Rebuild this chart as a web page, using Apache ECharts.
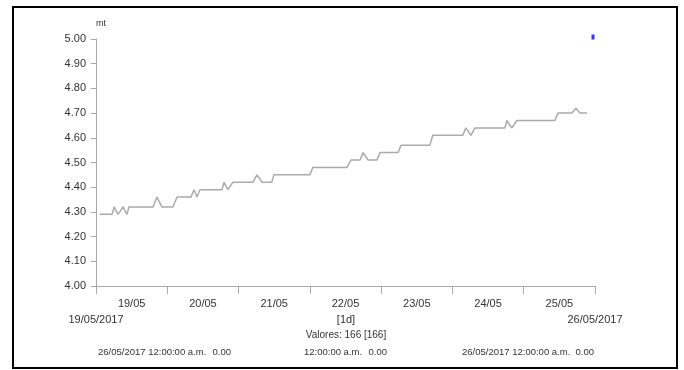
<!DOCTYPE html>
<html>
<head>
<meta charset="utf-8">
<script src="https://cdn.jsdelivr.net/npm/echarts@6/dist/echarts.min.js"></script>
<style>
  html, body { margin: 0; padding: 0; background: #fff; }
  #chart { width: 684px; height: 370px; }
</style>
</head>
<body>
<div id="chart"></div>
<script>
  // hours since 19/05/2017 00:00 and the reading at that moment
  const hours = [1.35, 5.4, 6.1, 7.4, 9.1, 10.4, 11.1, 19.2, 20.5, 22.2, 25.9, 27.3, 32.0, 33.0, 34.0, 35.0,
    42.4, 43.1, 44.4, 46.1, 52.8, 54.2, 55.9, 59.2, 59.9, 72.0, 73.0, 84.5, 85.8, 88.9, 89.9, 91.6,
    94.6, 95.6, 101.7, 102.7, 112.4, 113.4, 123.5, 124.5, 126.2, 127.6, 137.7, 138.3, 140.0, 141.7,
    154.5, 155.5, 160.2, 161.6, 162.9, 165.3];
  const values = [4.29, 4.29, 4.32, 4.29, 4.32, 4.29, 4.32, 4.32, 4.36, 4.32, 4.32, 4.36, 4.36, 4.39, 4.36, 4.39,
    4.39, 4.42, 4.39, 4.42, 4.42, 4.45, 4.42, 4.42, 4.45, 4.45, 4.48, 4.48, 4.51, 4.51, 4.54, 4.51,
    4.51, 4.54, 4.54, 4.57, 4.57, 4.61, 4.61, 4.64, 4.61, 4.64, 4.64, 4.67, 4.64, 4.67,
    4.67, 4.70, 4.70, 4.72, 4.70, 4.70];
  const dayLabels = ['19/05', '20/05', '21/05', '22/05', '23/05', '24/05', '25/05'];
  const rangeLabels = ['19/05/2017', '26/05/2017'];
  const markerPoint = [168, 5.0];

  const font = "'Liberation Sans', Arial, sans-serif";
  const txt = '#333';
  const axisGray = '#a8a8a8';
  const small = '10px ' + font;
  const footer = '9.5px ' + font;

  const myChart = echarts.init(document.getElementById('chart'));
  const option = {
    animation: false,
    grid: { left: 96, right: 89, top: 39, bottom: 84 },
    xAxis: [
      {
        type: 'value', min: 0, max: 168, interval: 24,
        axisLine: { show: true, lineStyle: { color: axisGray } },
        axisTick: { show: true, length: 8, lineStyle: { color: axisGray } },
        axisLabel: { show: false },
        splitLine: { show: false }
      },
      {
        type: 'value', min: 0, max: 168, interval: 12, position: 'bottom',
        axisLine: { show: false }, axisTick: { show: false }, splitLine: { show: false },
        axisLabel: {
          margin: 12, color: txt, fontFamily: font, fontSize: 11,
          formatter: v => (v % 24 === 12 ? dayLabels[Math.floor(v / 24)] : '')
        }
      },
      {
        type: 'value', min: 0, max: 168, interval: 168, position: 'bottom',
        axisLine: { show: false }, axisTick: { show: false }, splitLine: { show: false },
        axisLabel: {
          margin: 28, color: txt, fontFamily: font, fontSize: 11,
          showMinLabel: true, showMaxLabel: true,
          formatter: v => (v === 0 ? rangeLabels[0] : rangeLabels[1])
        }
      }
    ],
    yAxis: {
      type: 'value', min: 4, max: 5, interval: 0.1,
      name: 'mt', nameLocation: 'end', nameGap: 11,
      nameTextStyle: { color: txt, fontFamily: font, fontSize: 9, align: 'left' },
      axisLine: { show: true, lineStyle: { color: axisGray } },
      axisTick: { show: true, length: 5, lineStyle: { color: axisGray } },
      axisLabel: { color: txt, fontFamily: font, fontSize: 11, margin: 10, formatter: v => v.toFixed(2) },
      splitLine: { show: false }
    },
    series: [
      {
        type: 'line',
        data: hours.map((h, i) => [h, values[i]]),
        showSymbol: false,
        lineStyle: { color: '#ababab', width: 1.5 }
      },
      {
        type: 'scatter',
        data: [markerPoint],
        symbol: 'rect', symbolSize: [3, 5], symbolOffset: [-2, -2],
        itemStyle: { color: '#0000ff' },
        clip: false
      }
    ],
    graphic: [
      { type: 'rect', shape: { x: 13, y: 7, width: 664, height: 361 }, style: { fill: 'none', stroke: '#000', lineWidth: 2 } },
      { type: 'text', x: 346, y: 320, style: { text: '[1d]', fill: txt, font: '11px ' + font, align: 'center', verticalAlign: 'middle' } },
      { type: 'text', x: 346, y: 335, style: { text: 'Valores: 166 [166]', fill: txt, font: small, align: 'center', verticalAlign: 'middle' } },
      { type: 'text', x: 98, y: 352, style: { text: '26/05/2017 12:00:00 a.m.', fill: txt, font: footer, align: 'left', verticalAlign: 'middle' } },
      { type: 'text', x: 231, y: 352, style: { text: '0.00', fill: txt, font: footer, align: 'right', verticalAlign: 'middle' } },
      { type: 'text', x: 304, y: 352, style: { text: '12:00:00 a.m.', fill: txt, font: footer, align: 'left', verticalAlign: 'middle' } },
      { type: 'text', x: 387, y: 352, style: { text: '0.00', fill: txt, font: footer, align: 'right', verticalAlign: 'middle' } },
      { type: 'text', x: 462, y: 352, style: { text: '26/05/2017 12:00:00 a.m.', fill: txt, font: footer, align: 'left', verticalAlign: 'middle' } },
      { type: 'text', x: 594, y: 352, style: { text: '0.00', fill: txt, font: footer, align: 'right', verticalAlign: 'middle' } }
    ]
  };
  option && myChart.setOption(option);
</script>
</body>
</html>
